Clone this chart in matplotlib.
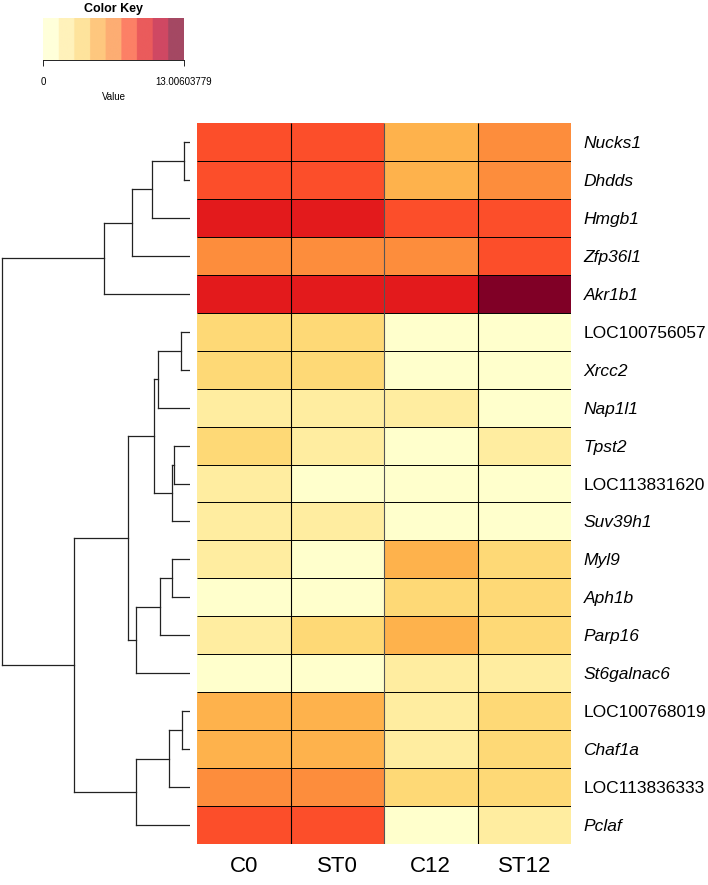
import numpy as np
import matplotlib
matplotlib.use("Agg")
import matplotlib.pyplot as plt
from matplotlib.colors import ListedColormap, BoundaryNorm

plt.rcParams['font.family'] = ['Liberation Sans', 'DejaVu Sans']

# ---- data ----
genes = ["Nucks1", "Dhdds", "Hmgb1", "Zfp36l1", "Akr1b1", "LOC100756057", "Xrcc2",
         "Nap1l1", "Tpst2", "LOC113831620", "Suv39h1", "Myl9", "Aph1b", "Parp16",
         "St6galnac6", "LOC100768019", "Chaf1a", "LOC113836333", "Pclaf"]
samples = ["C0", "ST0", "C12", "ST12"]

c0   = [8.0, 8.1, 9.6, 6.6, 9.8, 3.7, 3.5, 2.2, 3.8, 2.1, 2.3, 2.0, 0.6, 2.2, 0.5, 5.0, 5.1, 6.4, 8.2]
st0  = [8.1, 8.0, 9.8, 6.5, 10.0, 3.6, 3.6, 2.3, 2.4, 0.8, 2.2, 0.7, 0.5, 3.5, 0.6, 5.1, 5.0, 6.5, 8.3]
c12  = [5.1, 5.0, 8.0, 6.4, 9.6, 0.4, 0.5, 2.4, 0.6, 0.5, 0.4, 5.2, 3.6, 5.1, 2.3, 2.2, 2.1, 3.7, 0.3]
st12 = [6.5, 6.6, 8.1, 8.0, 13.00603779, 0.3, 0.4, 0.6, 2.2, 0.4, 0.5, 3.7, 3.8, 3.6, 2.2, 3.5, 3.6, 3.7, 2.2]

vmin, vmax = 0, 13.00603779
palette = ["#FFFFCC", "#FFEDA0", "#FED976", "#FEB24C", "#FD8D3C",
           "#FC4E2A", "#E31A1C", "#BD0026", "#800026"]

# row dendrogram: (left, right, height); leaves 0..18, merges numbered from 19
merges = [(0, 1, 0.032), (19, 2, 0.202), (20, 3, 0.309), (21, 4, 0.458),
          (5, 6, 0.048), (23, 7, 0.170), (8, 9, 0.085), (25, 10, 0.096),
          (24, 26, 0.192), (11, 12, 0.096), (28, 13, 0.160), (29, 14, 0.288),
          (27, 30, 0.330), (15, 16, 0.043), (32, 17, 0.112), (33, 18, 0.288),
          (31, 34, 0.618), (22, 35, 1.0)]

# ---- figure ----
W, H = 708, 885
fig = plt.figure(figsize=(W / 100, H / 100), dpi=100)

def px_axes(x0, y0, x1, y1):
    return fig.add_axes([x0 / W, 1 - y1 / H, (x1 - x0) / W, (y1 - y0) / H])

n = len(genes)
m = len(samples)
mat = np.array([c0, st0, c12, st12]).T
bounds = np.linspace(vmin, vmax, len(palette) + 1)
cmap = ListedColormap(palette)
norm = BoundaryNorm(bounds, cmap.N)

ax = px_axes(197, 123, 571, 844)
ax.pcolormesh(np.arange(m + 1), np.arange(n + 1), mat, cmap=cmap, norm=norm)
# internal cell separators only
ax.hlines(np.arange(1, n), 0, m, color="black", lw=0.7)
ax.vlines(np.arange(1, m), 0, n, color=["black", "#555555", "black"], lw=0.8)
ax.set_xlim(0, m)
ax.set_ylim(n, 0)
ax.set_xticks(np.arange(m) + 0.5)
ax.set_xticklabels(samples, fontsize=16)
ax.set_yticks(np.arange(n) + 0.5)
ax.set_yticklabels(genes, fontsize=12.5)
ax.yaxis.tick_right()
ax.tick_params(axis="y", length=0, pad=9)
ax.tick_params(axis="x", length=0, pad=9)
for lab in ax.get_yticklabels():
    if not lab.get_text().startswith("LOC"):
        lab.set_fontstyle("italic")
for s in ax.spines.values():
    s.set_visible(False)

# dendrogram
dax = px_axes(0, 123, 190, 844)
pos = {i: i + 0.5 for i in range(n)}
hgt = {i: 0.0 for i in range(n)}
for k, (a, b, h) in enumerate(merges):
    node = n + k
    for child in (a, b):
        dax.plot([hgt[child], h], [pos[child], pos[child]], color="#222222", lw=0.9)
    dax.plot([h, h], [pos[a], pos[b]], color="#222222", lw=0.9)
    pos[node] = (pos[a] + pos[b]) / 2
    hgt[node] = h
dax.set_xlim(190 / 187.7, 0)
dax.set_ylim(n, 0)
dax.axis("off")

# color key
kax = px_axes(43, 18, 184, 60)
kax.imshow(np.linspace(vmin, vmax, 500)[None, :], aspect="auto", cmap=cmap, norm=norm,
           alpha=0.72, extent=[vmin, vmax, 0, 1])
kax.set_xlim(vmin, vmax)
kax.set_yticks([])
kax.set_xticks([vmin, vmax])
kax.set_xticklabels(["0", "13.00603779"], fontsize=7)
kax.tick_params(axis="x", length=4, pad=8, width=0.6)
for side in ("top", "left", "right"):
    kax.spines[side].set_visible(False)
kax.spines["bottom"].set_linewidth(0.6)
kax.set_xlabel("Value", fontsize=7, labelpad=4)
kax.set_title("Color Key", fontsize=9, fontweight="bold", pad=4)

fig.savefig("out.png", dpi=100)
